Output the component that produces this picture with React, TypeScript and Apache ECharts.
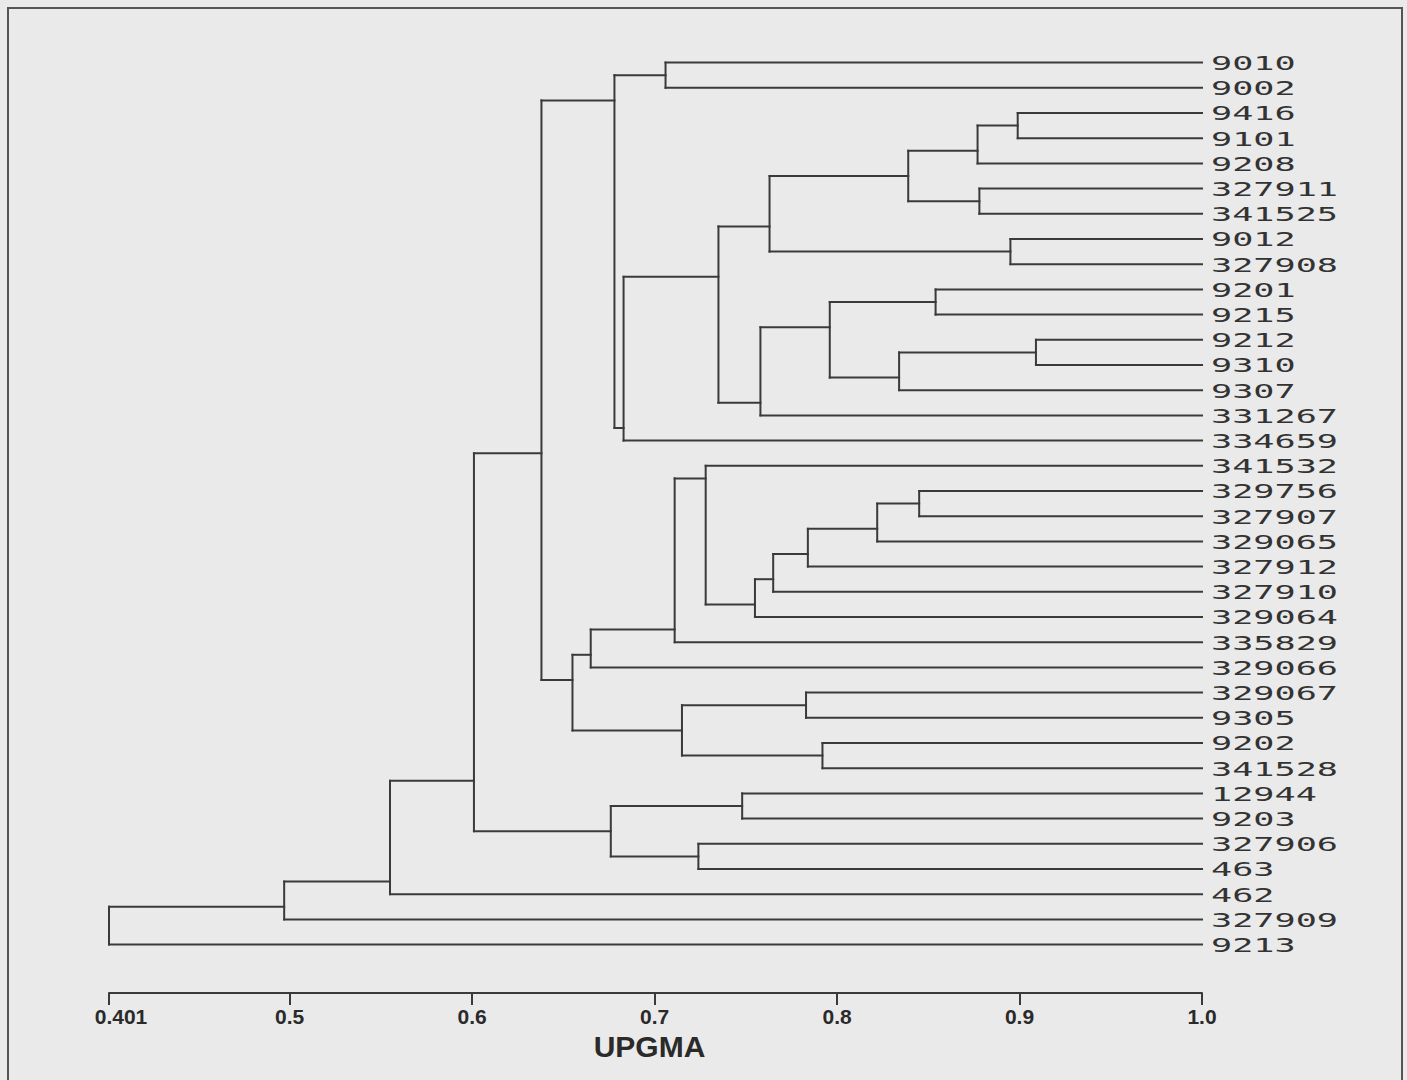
import React, { useEffect, useRef } from "react";
import * as echarts from "echarts";

// Leaves in top-to-bottom order
const leaves = [
  "9010", "9002", "9416", "9101", "9208", "327911", "341525", "9012", "327908",
  "9201", "9215", "9212", "9310", "9307", "331267", "334659", "341532", "329756",
  "327907", "329065", "327912", "327910", "329064", "335829", "329066", "329067",
  "9305", "9202", "341528", "12944", "9203", "327906", "463", "462", "327909", "9213",
];

// Cluster merges: [node, similarity, upper child, lower child]
const merges: [string, number, string, string][] = [
  ["A", 0.706, "9010", "9002"],
  ["B", 0.899, "9416", "9101"],
  ["C", 0.877, "B", "9208"],
  ["D", 0.878, "327911", "341525"],
  ["E", 0.839, "C", "D"],
  ["F", 0.895, "9012", "327908"],
  ["G", 0.763, "E", "F"],
  ["H", 0.854, "9201", "9215"],
  ["I", 0.909, "9212", "9310"],
  ["J", 0.834, "I", "9307"],
  ["K", 0.796, "H", "J"],
  ["L", 0.758, "K", "331267"],
  ["M", 0.735, "G", "L"],
  ["N", 0.683, "M", "334659"],
  ["O", 0.678, "A", "N"],
  ["P", 0.845, "329756", "327907"],
  ["Q", 0.822, "P", "329065"],
  ["R", 0.784, "Q", "327912"],
  ["S", 0.765, "R", "327910"],
  ["T", 0.755, "S", "329064"],
  ["U", 0.728, "341532", "T"],
  ["V", 0.711, "U", "335829"],
  ["W", 0.665, "V", "329066"],
  ["X", 0.783, "329067", "9305"],
  ["Y", 0.792, "9202", "341528"],
  ["Z", 0.715, "X", "Y"],
  ["AA", 0.655, "W", "Z"],
  ["AB", 0.638, "O", "AA"],
  ["AC", 0.748, "12944", "9203"],
  ["AD", 0.724, "327906", "463"],
  ["AE", 0.676, "AC", "AD"],
  ["AF", 0.601, "AB", "AE"],
  ["AG", 0.555, "AF", "462"],
  ["AH", 0.497, "AG", "327909"],
  ["AI", 0.401, "AH", "9213"],
];

const tickValues = [0.401, 0.5, 0.6, 0.7, 0.8, 0.9, 1.0];
const tickLabels = ["0.401", "0.5", "0.6", "0.7", "0.8", "0.9", "1.0"];
const axisTitle = "UPGMA";
const leafSimilarity = 1.0;

type Info = { x: number; y: number; last: number };

function buildSegments(): number[][] {
  const byName = new Map(merges.map((m) => [m[0], m]));
  const memo = new Map<string, Info>();
  const info = (name: string): Info => {
    if (memo.has(name)) return memo.get(name)!;
    const li = leaves.indexOf(name);
    let r: Info;
    if (li >= 0) {
      r = { x: leafSimilarity, y: li, last: li };
    } else {
      const m = byName.get(name)!;
      const up = info(m[2]);
      const lo = info(m[3]);
      r = { x: m[1], y: up.last + 0.5, last: lo.last };
    }
    memo.set(name, r);
    return r;
  };
  const segs: number[][] = [];
  for (const m of merges) {
    const up = info(m[2]);
    const lo = info(m[3]);
    segs.push([m[1], up.y, m[1], lo.y]);
    segs.push([m[1], up.y, up.x, up.y]);
    segs.push([m[1], lo.y, lo.x, lo.y]);
  }
  return segs;
}

const INK = "#3a3a3a";
const TICK_FONT = "'Liberation Sans', Arial, sans-serif";

export default function App() {
  const ref = useRef<HTMLDivElement>(null);
  useEffect(() => {
    if (!ref.current) return;
    const chart = echarts.init(ref.current, undefined, { renderer: "svg" });
    const gridTop = 50;
    const gridBottomY = 993;
    const rowPx = 25.2;
    const yMin = -0.5;
    const yMax = yMin + (gridBottomY - gridTop) / rowPx;
    const segs = buildSegments();

    chart.setOption({
      animation: false,
      backgroundColor: "#eaeaea",
      grid: { left: 109, right: 205, top: gridTop, bottom: 1080 - gridBottomY },
      xAxis: {
        type: "value",
        position: "bottom",
        min: 0.401,
        max: 1.0,
        splitLine: { show: false },
        axisLine: { show: true, onZero: false, lineStyle: { color: INK, width: 2 } },
        axisTick: {
          show: true,
          customValues: tickValues,
          length: 12,
          lineStyle: { color: INK, width: 2 },
        },
        axisLabel: {
          customValues: tickValues,
          margin: 13,
          color: "#2a2a2a",
          fontFamily: TICK_FONT,
          fontWeight: "bold",
          fontSize: 21,
          formatter: (v: number) => {
            const i = tickValues.findIndex((t) => Math.abs(t - v) < 1e-6);
            const s = i >= 0 ? tickLabels[i] : String(v);
            return i === 0 ? "{first|" + s + "}" : s;
          },
          rich: {
            first: {
              padding: [0, 0, 0, 24],
              color: "#2a2a2a",
              fontFamily: TICK_FONT,
              fontWeight: "bold",
              fontSize: 21,
            },
          },
        },
        name: axisTitle,
        nameLocation: "middle",
        nameGap: 36,
        nameTextStyle: {
          color: "#2a2a2a",
          fontFamily: TICK_FONT,
          fontWeight: "bold",
          fontSize: 30,
          padding: [0, 12, 0, 0],
        },
      },
      yAxis: { type: "value", inverse: true, min: yMin, max: yMax, show: false },
      graphic: [
        {
          type: "rect",
          shape: { x: 8, y: 8, width: 1394, height: 1090 },
          style: { fill: "none", stroke: "#555", lineWidth: 2 },
          silent: true,
        },
      ],
      series: [
        {
          type: "custom",
          clip: false,
          encode: { x: [0, 2], y: [1, 3] },
          data: segs,
          renderItem: (params: any, api: any) => {
            const p1 = api.coord([api.value(0), api.value(1)]);
            const p2 = api.coord([api.value(2), api.value(3)]);
            return {
              type: "line",
              shape: { x1: p1[0], y1: p1[1], x2: p2[0], y2: p2[1] },
              style: { stroke: INK, lineWidth: 2, lineCap: "square" },
            };
          },
        },
        {
          type: "custom",
          clip: false,
          encode: { x: 0, y: 1 },
          data: leaves.map((_, i) => [leafSimilarity, i]),
          renderItem: (params: any, api: any) => {
            const p = api.coord([api.value(0), api.value(1)]);
            return {
              type: "text",
              x: p[0] + 9,
              y: p[1] + 1,
              scaleX: 1.85,
              style: {
                text: leaves[params.dataIndex],
                fill: "#333",
                fontFamily: "'DejaVu Sans Mono', monospace",
                fontSize: 19,
                align: "left",
                verticalAlign: "middle",
              },
            };
          },
        },
      ],
    });
    return () => chart.dispose();
  }, []);
  return (
    <div
      ref={ref}
      style={{ position: "absolute", left: 0, top: 0, width: 1407, height: 1080 }}
    />
  );
}
